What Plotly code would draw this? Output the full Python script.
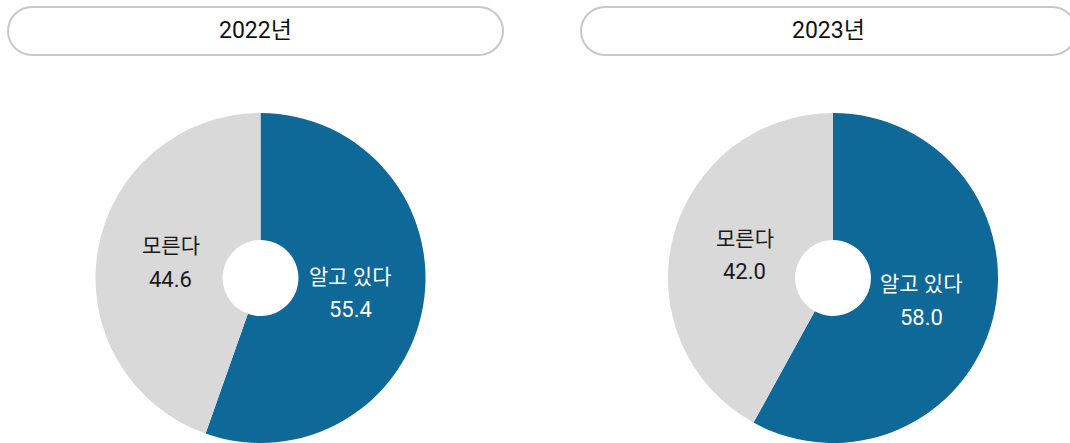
import math
import plotly.graph_objects as go

years = ["2022년", "2023년"]
labels = ["알고 있다", "모른다"]
values_2022 = [55.4, 44.6]
values_2023 = [58.0, 42.0]
colors = ["#0E6898", "#D9D9D9"]
text_colors = ["#FFFFFF", "#1A1A1A"]

W, H = 1070, 443
FONT = "Roboto, Noto Sans CJK KR"

def px_x(x):
    return x / W

def px_y(y):
    return 1 - y / H

def pill_path(x0, y0, x1, y1):
    r = (y1 - y0) / 2
    k = 0.5523 * r
    cy = (y0 + y1) / 2
    p = lambda x, y: f"{px_x(x):.5f},{px_y(y):.5f}"
    d = f"M {p(x0 + r, y0)} L {p(x1 - r, y0)} "
    d += f"C {p(x1 - r + k, y0)} {p(x1, cy - k)} {p(x1, cy)} "
    d += f"C {p(x1, cy + k)} {p(x1 - r + k, y1)} {p(x1 - r, y1)} "
    d += f"L {p(x0 + r, y1)} "
    d += f"C {p(x0 + r - k, y1)} {p(x0, cy + k)} {p(x0, cy)} "
    d += f"C {p(x0, cy - k)} {p(x0 + r - k, y0)} {p(x0 + r, y0)} Z"
    return d

fig = go.Figure()

# pie layout (pixels): domain boxes
pie_boxes = [(95, 113, 426, 443), (668, 113, 998, 443)]
LABEL_R = 91
LINE_GAP = 16.5

for vals, (bx0, by0, bx1, by1) in zip([values_2022, values_2023], pie_boxes):
    fig.add_trace(go.Pie(
        labels=labels,
        values=vals,
        sort=False,
        direction="clockwise",
        rotation=0,
        hole=0.23,
        domain=dict(x=[bx0 / W, bx1 / W], y=[1 - by1 / H, 1 - by0 / H]),
        marker=dict(colors=colors, line=dict(width=0)),
        textinfo="none",
        showlegend=False,
        hoverinfo="label+value",
    ))
    cx = (bx0 + bx1) / 2
    cy = by0 + min(bx1 - bx0, by1 - by0) / 2
    total = sum(vals)
    cum = 0
    for lab, v, tc in zip(labels, vals, text_colors):
        th = 2 * math.pi * (cum + v / 2) / total
        cum += v
        tx = cx + LABEL_R * math.sin(th)
        ty = cy - LABEL_R * math.cos(th)
        fig.add_annotation(x=px_x(tx), y=px_y(ty - LINE_GAP), xref="paper", yref="paper",
                           text=lab, showarrow=False, xanchor="center", yanchor="middle",
                           font=dict(family=FONT, size=21, color=tc))
        fig.add_annotation(x=px_x(tx), y=px_y(ty + LINE_GAP), xref="paper", yref="paper",
                           text=f"{v:.1f}", showarrow=False, xanchor="center", yanchor="middle",
                           font=dict(family=FONT, size=22, color=tc))

pills = [(8, 7, 503, 55), (581, 7, 1076, 55)]
for (x0, y0, x1, y1), yr in zip(pills, years):
    fig.add_shape(type="path", xref="paper", yref="paper",
                  path=pill_path(x0, y0, x1, y1),
                  line=dict(color="#C8C8C8", width=2), fillcolor="rgba(0,0,0,0)")
    fig.add_annotation(x=px_x((x0 + x1) / 2), y=px_y((y0 + y1) / 2),
                       xref="paper", yref="paper", text=yr, showarrow=False,
                       font=dict(family=FONT, size=23, color="#111111"),
                       xanchor="center", yanchor="middle")

fig.update_layout(
    width=W, height=H,
    margin=dict(l=0, r=0, t=0, b=0),
    paper_bgcolor="white",
    plot_bgcolor="white",
)

fig.write_html("out.html", config={"displayModeBar": False},
               post_script="document.body.style.margin='0';document.body.style.overflow='hidden';")
